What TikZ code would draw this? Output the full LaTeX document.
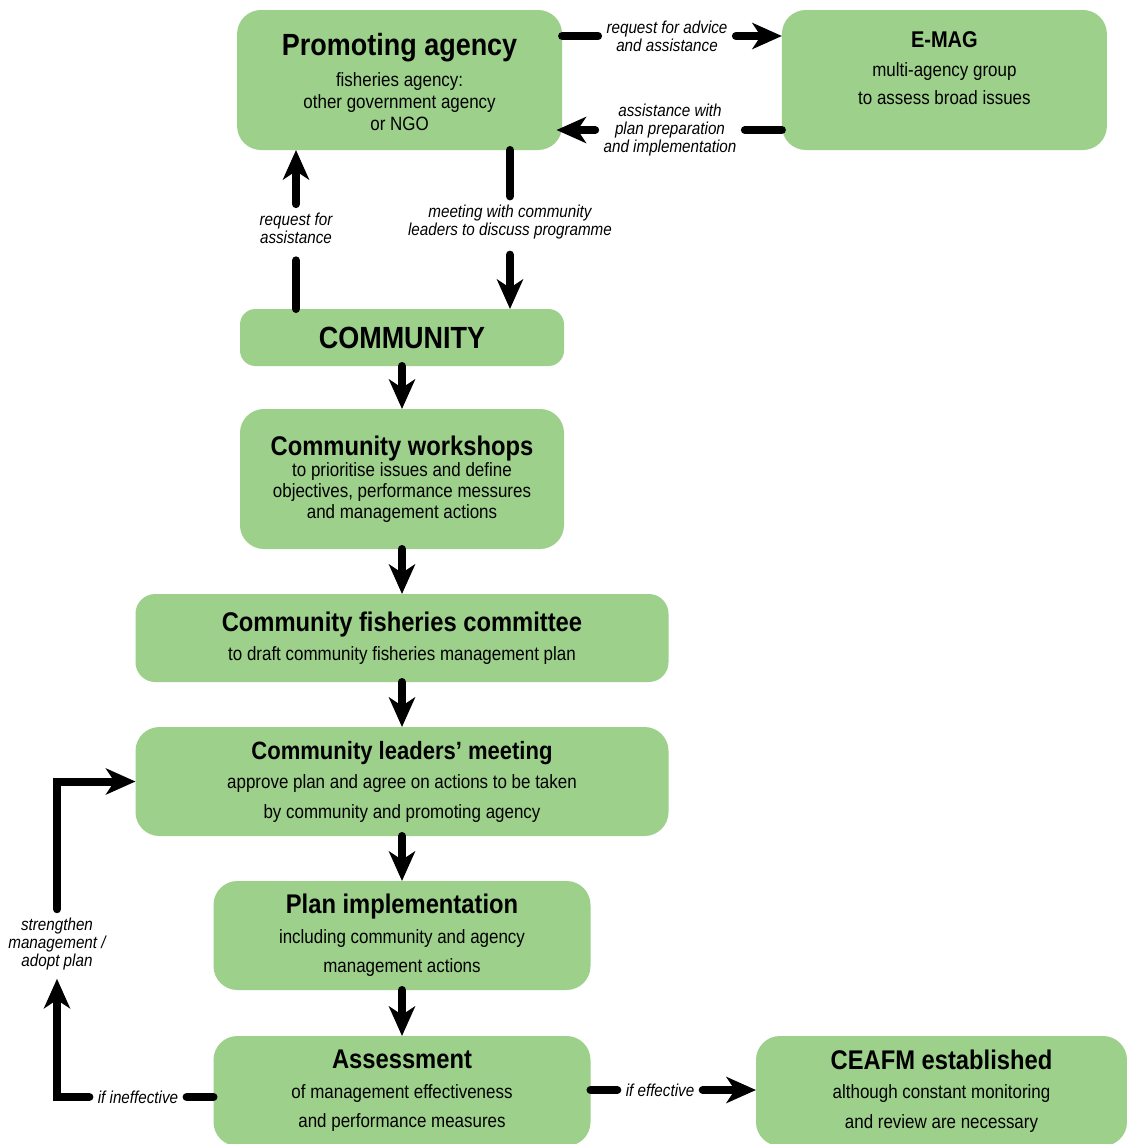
\documentclass[tikz,border=0pt]{standalone}
\usepackage{fontspec}
\setmainfont{Liberation Sans}[FakeStretch=0.88]
\usetikzlibrary{arrows.meta}
\definecolor{stagecolor}{RGB}{157,208,138}
\definecolor{linkcolor}{RGB}{0,0,0}

\begin{document}
\begin{tikzpicture}[
    stage/.style={fill=stagecolor, rounded corners=17pt, inner sep=0pt, outer sep=0pt, align=center, font=\fontsize{13.7pt}{21pt}\selectfont},
    flowlabel/.style={inner sep=6pt, outer sep=0pt, align=center, font=\fontsize{12.3pt}{13pt}\selectfont\itshape},
    link/.style={line width=5.7pt, line cap=round, linkcolor},
    arrow/.style={link, -{Stealth[length=21pt, width=18.5pt, inset=6pt]}}
]
    \useasboundingbox (0,0) rectangle (28.175,-28.6);

    % Agencies
    \node[stage, minimum width=8.125cm, minimum height=3.5cm, font=\fontsize{13.7pt}{15.6pt}\selectfont] (prom) at (9.99,-2)
        {\rule{0pt}{19pt}{\fontsize{21.8pt}{24pt}\selectfont\bfseries Promoting agency}\\[6.4pt]fisheries agency:\\other government agency\\or NGO};
    \node[stage, minimum width=8.125cm, minimum height=3.5cm, font=\fontsize{13.7pt}{20.6pt}\selectfont] (emag) at (23.61,-2)
        {{\fontsize{16.2pt}{18pt}\selectfont\bfseries E-MAG}\\multi-agency group\\to assess broad issues\rule[-17pt]{0pt}{0pt}};

    % Community process
    \node[stage, rounded corners=11pt, minimum width=8.1cm, minimum height=1.425cm] (comm) at (10.05,-8.4375)
        {\fontsize{21.8pt}{24pt}\selectfont\bfseries COMMUNITY};
    \node[stage, minimum width=8.1cm, minimum height=3.5cm, font=\fontsize{13.7pt}{15pt}\selectfont] (work) at (10.05,-11.975)
        {{\fontsize{19.2pt}{21pt}\selectfont\bfseries Community workshops}\\to prioritise issues and define\\objectives, performance messures\\and management actions};
    \node[stage, rounded corners=14pt, minimum width=13.325cm, minimum height=2.2cm] (cfc) at (10.05,-15.95)
        {{\fontsize{19.2pt}{21pt}\selectfont\bfseries Community fisheries committee}\\to draft community fisheries management plan};
    \node[stage, minimum width=13.325cm, minimum height=2.725cm] (leaders) at (10.05,-19.5375)
        {{\fontsize{17.8pt}{21pt}\selectfont\bfseries Community leaders' meeting}\\approve plan and agree on actions to be taken\\by community and promoting agency};
    \node[stage, minimum width=9.425cm, minimum height=2.725cm] (plan) at (10.05,-23.3875)
        {{\fontsize{19.2pt}{21pt}\selectfont\bfseries Plan implementation}\\including community and agency\\management actions};
    \node[stage, minimum width=9.425cm, minimum height=2.75cm] (assess) at (10.05,-27.275)
        {{\fontsize{19.2pt}{21pt}\selectfont\bfseries Assessment}\\of management effectiveness\\and performance measures};
    \node[stage, minimum width=9.275cm, minimum height=2.75cm] (ceafm) at (23.5375,-27.275)
        {{\fontsize{19.2pt}{21pt}\selectfont\bfseries CEAFM established}\\although constant monitoring\\and review are necessary};

    % Labels
    \node[flowlabel] (lreq) at (16.675,-0.9) {request for advice\\and assistance};
    \node[flowlabel] (lassist) at (16.75,-3.25) {assistance with\\plan preparation\\and implementation};
    \node[flowlabel] (lreqa) at (7.4,-5.7) {request for\\assistance};
    \node[flowlabel] (lmeet) at (12.75,-5.55) {meeting with community\\leaders to discuss programme};
    \node[flowlabel] (leff) at (16.5,-27.25) {if effective};
    \node[flowlabel] (lineff) at (3.45,-27.425) {if ineffective};
    \node[flowlabel] (lstren) at (1.425,-23.6) {strengthen\\management /\\adopt plan};

    % Arrows between agencies
    \draw[link] (prom.east |- lreq) -- (lreq.west);
    \draw[arrow] (lreq.east) -- (emag.west |- lreq);
    \draw[link] (emag.west |- lassist) -- (lassist.east);
    \draw[arrow, shorten >=-4pt] (lassist.west) -- (prom.east |- lassist);

    % Agency and community
    \draw[link, shorten >=6pt] (comm.north -| lreqa) -- (lreqa.south);
    \draw[arrow] (lreqa.north) -- (prom.south -| lreqa);
    \draw[link] (prom.south -| lmeet) -- (lmeet.north);
    \draw[arrow, shorten <=5pt] (lmeet.south) -- (comm.north -| lmeet);

    % Main flow
    \draw[arrow] (comm) -- (work);
    \draw[arrow] (work) -- (cfc);
    \draw[arrow] (cfc) -- (leaders);
    \draw[arrow] (leaders) -- (plan);
    \draw[arrow] (plan) -- (assess);

    % Outcome of assessment
    \draw[link] (assess.east |- leff) -- (leff.west);
    \draw[arrow] (leff.east) -- (ceafm.west |- leff);
    \draw[link] (assess.west |- lineff) -- (lineff.east);
    \draw[arrow] (lineff.west) -| (lstren.south);
    \draw[arrow] (lstren.north) |- (leaders.west);
\end{tikzpicture}
\end{document}
